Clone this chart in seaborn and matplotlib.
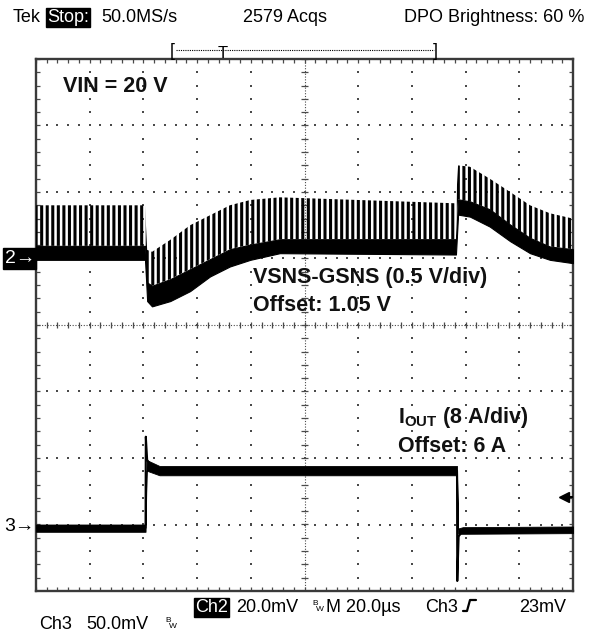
import numpy as np
import matplotlib
matplotlib.use("Agg")
import matplotlib.pyplot as plt
from matplotlib.lines import Line2D
import seaborn as sns

# ---------------- data (screen divisions: x 0..10, y -4..4) ----------------
# Ch2 (VSNS-GSNS) envelope: time, band low, band high, ripple-spike top
ch2_t     = [0.00, 2.03, 2.07, 2.16, 2.50, 2.87, 3.24, 3.61, 3.99, 4.54, 7.82, 7.86, 8.08, 8.45, 8.83, 9.20, 9.57, 10.00]
ch2_low   = [0.98, 0.98, 0.36, 0.28, 0.36, 0.51, 0.73, 0.88, 0.98, 1.08, 1.06, 1.66, 1.63, 1.48, 1.26, 1.08, 0.98, 0.93]
ch2_high  = [1.19, 1.19, 0.64, 0.59, 0.69, 0.84, 0.99, 1.14, 1.21, 1.29, 1.29, 1.89, 1.86, 1.74, 1.51, 1.31, 1.18, 1.14]
ch2_spike = [1.80, 1.80, 1.13, 1.10, 1.28, 1.50, 1.65, 1.80, 1.88, 1.92, 1.83, 2.40, 2.38, 2.20, 2.00, 1.80, 1.68, 1.60]

# Ch3 (IOUT) trace and its persistence band
ch3_t  = [0.000, 2.040, 2.045, 2.070, 2.150, 2.400, 7.840, 7.845, 7.870, 7.950, 10.00]
ch3_y  = [-3.05, -3.05, -1.68, -2.03, -2.12, -2.18, -2.19, -3.85, -3.18, -3.09, -3.08]
ch3_band_t  = [0.00, 2.04, 2.06, 2.30, 7.84, 7.86, 7.95, 10.0]
ch3_band_lo = [-3.11, -3.11, -2.19, -2.26, -2.26, -3.14, -3.14, -3.13]
ch3_band_hi = [-3.00, -3.00, -2.03, -2.12, -2.12, -3.06, -3.04, -3.03]

ch2_marker = 1.0
ch3_marker = -3.03
trig_level = -2.58

header_texts = ["Tek", "Stop:", "50.0MS/s", "2579 Acqs", "DPO Brightness: 60 %"]
annot_vin = "VIN = 20 V"
annot_ch2 = ["VSNS-GSNS (0.5 V/div)", "Offset: 1.05 V"]
annot_ch3 = ["(8 A/div)", "Offset: 6 A"]

# ---------------- figure ----------------
sns.set_style("white")
plt.rcParams['font.family'] = ['Liberation Sans', 'DejaVu Sans']
plt.rcParams['hatch.linewidth'] = 2.2
plt.rcParams['mathtext.fontset'] = 'custom'
plt.rcParams['mathtext.bf'] = 'Liberation Sans:bold'
plt.rcParams['mathtext.rm'] = 'Liberation Sans'

W, H = 590, 635
fig = plt.figure(figsize=(W / 100, H / 100), dpi=100)
fig.patch.set_facecolor('white')
L, R, T, B = 36, 573, 59, 591
ax = fig.add_axes([L / W, 1 - B / H, (R - L) / W, (B - T) / H])
ax.set_xlim(0, 10)
ax.set_ylim(-4, 4)
ax.set_xticks([])
ax.set_yticks([])
for s in ax.spines.values():
    s.set_color('#3a3a3a')
    s.set_linewidth(1.7)

gc = '#4a4a4a'
sub = np.arange(0, 10.001, 0.2)
subv = np.arange(-4, 4.001, 0.2)
gx, gy = [], []
for xv in range(1, 10):
    if xv == 5:
        continue
    gx += [xv] * len(subv)
    gy += list(subv)
for yv in range(-3, 4):
    if yv == 0:
        continue
    gx += list(sub)
    gy += [yv] * len(sub)
ax.scatter(gx, gy, s=2.0, marker='s', color=gc, linewidths=0, zorder=1)
ax.plot([0, 10], [0, 0], ls=(0, (1, 1.5)), color=gc, lw=0.8, zorder=1)
ax.plot([5, 5], [-4, 4], ls=(0, (1, 1.5)), color=gc, lw=0.8, zorder=1)
ax.vlines(sub, -0.05, 0.05, color=gc, lw=0.9, zorder=1)
ax.hlines(subv, 4.94, 5.06, color=gc, lw=0.9, zorder=1)
ax.vlines(sub, 3.94, 4.0, color=gc, lw=0.9, zorder=1)
ax.vlines(sub, -4.0, -3.94, color=gc, lw=0.9, zorder=1)
ax.hlines(subv, 0, 0.07, color=gc, lw=0.9, zorder=1)
ax.hlines(subv, 9.93, 10, color=gc, lw=0.9, zorder=1)

# Ch2 waveform: ripple spikes + persistence band
ax.fill_between(ch2_t, ch2_high, ch2_spike, facecolor='none', edgecolor='black',
                hatch='|||', linewidth=0, zorder=3)
ax.fill_between(ch2_t, ch2_low, ch2_high, color='black', linewidth=0.8, zorder=4)

# Ch3 waveform
ax.fill_between(ch3_band_t, ch3_band_lo, ch3_band_hi, color='black', linewidth=0.6, zorder=4)
sns.lineplot(x=ch3_t, y=ch3_y, sort=False, estimator=None, color='black', lw=1.5, ax=ax, zorder=5)

# trigger level marker
ax.plot([9.84], [trig_level], marker='<', ms=7, color='black', clip_on=False, zorder=6)
ax.hlines(trig_level, 9.84, 10, color='black', lw=1.5, zorder=6)

# channel ground markers
ax.text(-0.02, ch2_marker, "2\u2192", ha='right', va='center', color='white', fontsize=14,
        clip_on=False,
        bbox=dict(boxstyle='square,pad=0.08', fc='black', ec='black'))
ax.text(-0.02, ch3_marker, "3\u2192", ha='right', va='center', color='black', fontsize=14,
        clip_on=False)

# ---------------- annotations (pixel helper) ----------------
def ftxt(x, y, s, **kw):
    return fig.text(x / W, 1 - y / H, s, **kw)

bold = dict(fontsize=15.5, fontweight='bold', color='#111111', va='baseline', ha='left')
ftxt(63, 92, annot_vin, **bold)
ftxt(253, 283, annot_ch2[0], **bold)
ftxt(253, 311, annot_ch2[1], **bold)
ftxt(398, 423, r"$\mathbf{I_{OUT}}$ " + annot_ch3[0], **bold)
ftxt(398, 452, annot_ch3[1], **bold)

# header
hd = dict(fontsize=13, color='black', va='baseline', ha='left')
ftxt(13, 22, header_texts[0], **hd)
ftxt(47, 22, header_texts[1], **dict(hd, color='white'),
     bbox=dict(boxstyle='square,pad=0.08', fc='black', ec='black'))
ftxt(101, 22, header_texts[2], **hd)
ftxt(243, 22, header_texts[3], **hd)
ftxt(584, 22, header_texts[4], **dict(hd, ha='right'))

# record-view bracket
ftxt(170, 56, "[", **hd)
ftxt(438, 56, "]", **dict(hd, ha='right'))
fig.add_artist(Line2D([176 / W, 434 / W], [1 - 50 / H, 1 - 50 / H], ls=(0, (1, 1)),
                      color='black', lw=0.8))
ftxt(223, 58, "T", **dict(hd, ha='center', fontsize=12))

# footer
ftxt(195, 612, "Ch2", **dict(hd, color='white'),
     bbox=dict(boxstyle='square,pad=0.08', fc='black', ec='black'))
ftxt(236, 612, "20.0mV", **hd)
ftxt(312, 605, "B", **dict(hd, fontsize=6))
ftxt(316, 611, "W", **dict(hd, fontsize=6))
ftxt(326, 612, "M 20.0\u00b5s", **hd)
ftxt(425, 612, "Ch3", **hd)
fig.add_artist(Line2D([463 / W, 467 / W, 470 / W, 476 / W],
                      [1 - 611 / H, 1 - 611 / H, 1 - 600 / H, 1 - 600 / H],
                      color='black', lw=1.6))
ftxt(566, 612, "23mV", **dict(hd, ha='right'))
ftxt(39, 629, "Ch3", **hd)
ftxt(86, 629, "50.0mV", **hd)
ftxt(165, 622, "B", **dict(hd, fontsize=6))
ftxt(169, 628, "W", **dict(hd, fontsize=6))

fig.savefig("out.png", dpi=100, facecolor='white')
